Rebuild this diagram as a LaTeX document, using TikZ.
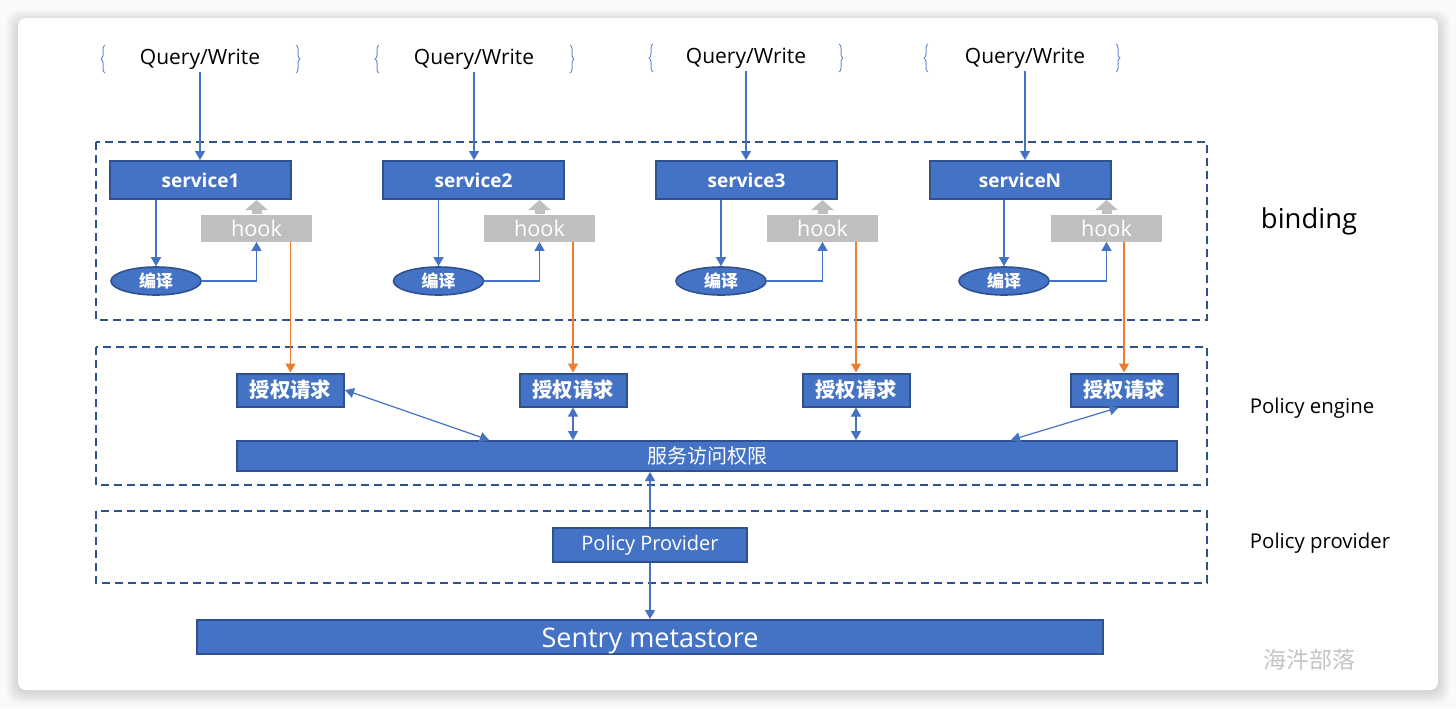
\documentclass[tikz,border=0pt]{standalone}
\usepackage{fontspec}
\setmainfont{Open Sans}
\newfontfamily\cjk{Noto Sans CJK SC}
\usetikzlibrary{arrows.meta,positioning,calc,shapes.geometric,decorations.pathreplacing}
\definecolor{boxblue}{HTML}{4472C4}
\definecolor{boxedge}{HTML}{2F528F}
\definecolor{hookgray}{HTML}{BFBFBF}
\definecolor{reqorange}{HTML}{ED7D31}
\definecolor{markgray}{HTML}{C4C4C4}

\begin{document}
\begin{tikzpicture}[x=0.5pt, y=-0.5pt,
  qw/.style={inner sep=1pt, font=\fontsize{10.5}{12}\selectfont},
  svc/.style={draw=boxedge, line width=1pt, fill=boxblue, text=white, inner sep=0pt, minimum width=90.5pt, minimum height=19pt, font=\fontsize{9.5}{11}\selectfont\bfseries},
  hookbox/.style={fill=hookgray, text=white, inner sep=0pt, minimum width=55.5pt, minimum height=13.5pt, font=\fontsize{10.8}{12}\selectfont},
  comp/.style={ellipse, draw=boxedge, line width=0.8pt, fill=boxblue, text=white, inner sep=0pt, minimum width=45pt, minimum height=14pt, font=\cjk\fontsize{8.5}{10}\selectfont\bfseries},
  authbox/.style={draw=boxedge, line width=1pt, fill=boxblue, text=white, inner sep=0pt, minimum width=53.5pt, minimum height=16.5pt, font=\cjk\fontsize{10.2}{12}\selectfont\bfseries},
  bar/.style={draw=boxedge, line width=1pt, fill=boxblue, text=white, inner sep=0pt, minimum height=15pt, align=center},
  layer/.style={anchor=center, font=\fontsize{10.2}{12}\selectfont},
  grp/.style={draw=boxedge, line width=1.1pt, dash pattern=on 4pt off 2.5pt},
  brc/.style={decorate, decoration={brace, amplitude=2pt}, boxblue!80, line width=0.5pt},
  arr/.style={-{Triangle[length=4.5pt, width=5pt]}, boxblue, line width=0.6pt},
  darr/.style={{Triangle[length=4.5pt, width=5pt]}-{Triangle[length=4.5pt, width=5pt]}, boxblue, line width=0.6pt},
  oarr/.style={-{Triangle[length=4.5pt, width=5pt]}, reqorange, line width=0.7pt},
  hookarr/.style={-{Triangle[length=5pt, width=11pt]}, hookgray, line width=5pt}
]
  % card and shadow
  \fill[gray!4] (0,0) rectangle (1456,708);
  \foreach \d in {1,...,12}
    \fill[black, opacity=0.012, rounded corners=6pt] (18-\d,18-\d+4) rectangle (1438+\d,690+\d+2);
  \fill[white, rounded corners=4pt] (18,18) rectangle (1438,690);

  % layers
  \draw[grp] (96,142) rectangle (1207,320);
  \draw[grp] (96,347) rectangle (1207,485);
  \draw[grp] (96,511) rectangle (1207,583);

  \node[layer, font=\fontsize{13.7}{16}\selectfont] (lbind) at (1309,221) {binding};
  \node[layer] (lengine) at (1312,408) {Policy engine};
  \node[layer] (lprov) at (1320,543) {Policy provider};

  % requests
  \node[qw] (q1) at (200,59) {Query/Write};
  \node[qw] (q2) at (474,59) {Query/Write};
  \node[qw] (q3) at (746,58) {Query/Write};
  \node[qw] (q4) at (1025,58) {Query/Write};

  \draw[brc] ([shift={(-95,14)}]q1.center) -- ([shift={(-95,-14)}]q1.center);
  \draw[brc] ([shift={(96,-14)}]q1.center) -- ([shift={(96,14)}]q1.center);
  \draw[brc] ([shift={(-95,14)}]q2.center) -- ([shift={(-95,-14)}]q2.center);
  \draw[brc] ([shift={(96,-14)}]q2.center) -- ([shift={(96,14)}]q2.center);
  \draw[brc] ([shift={(-93,14)}]q3.center) -- ([shift={(-93,-14)}]q3.center);
  \draw[brc] ([shift={(93,-14)}]q3.center) -- ([shift={(93,14)}]q3.center);
  \draw[brc] ([shift={(-97,14)}]q4.center) -- ([shift={(-97,-14)}]q4.center);
  \draw[brc] ([shift={(91,-14)}]q4.center) -- ([shift={(91,14)}]q4.center);

  % binding
  \node[svc] (svc1) at (200.5,180) {service1};
  \node[svc] (svc2) at (473.5,180) {service2};
  \node[svc] (svc3) at (746.5,180) {service3};
  \node[svc] (svc4) at (1020,180) {serviceN};

  \node[hookbox] (hook1) at (256.5,228) {hook};
  \node[hookbox] (hook2) at (539.5,228) {hook};
  \node[hookbox] (hook3) at (822.5,228) {hook};
  \node[hookbox] (hook4) at (1106.5,228) {hook};

  \node[comp] (comp1) at (156,281) {编译};
  \node[comp] (comp2) at (438.5,281) {编译};
  \node[comp] (comp3) at (721,281) {编译};
  \node[comp] (comp4) at (1004,281) {编译};

  % policy engine
  \node[authbox] (auth1) at (290.5,390) {授权请求};
  \node[authbox] (auth2) at (573,390) {授权请求};
  \node[authbox] (auth3) at (856,390) {授权请求};
  \node[authbox] (auth4) at (1124,390) {授权请求};
  \node[bar, minimum width=470pt, font=\cjk\fontsize{10}{12}\selectfont] (acl) at (707,456) {服务访问权限};

  % provider and store
  \node[bar, minimum width=97pt, minimum height=17pt, font=\fontsize{10}{12}\selectfont] (prov) at (650,545) {Policy Provider};
  \node[bar, minimum width=453pt, minimum height=17pt, text height=11pt, text depth=1pt, font=\fontsize{13.5}{16}\selectfont] (store) at (650,637) {Sentry metastore};

  \draw[arr] (q1.south) -- (q1.south |- svc1.north);
  \draw[arr] (q2.south) -- (q2.south |- svc2.north);
  \draw[arr] (q3.south) -- (q3.south |- svc3.north);
  \draw[arr] (q4.south) -- (q4.south |- svc4.north);

  \draw[hookarr] (hook1.north) -- (hook1.north |- svc1.south);
  \draw[hookarr] (hook2.north) -- (hook2.north |- svc2.south);
  \draw[hookarr] (hook3.north) -- (hook3.north |- svc3.south);
  \draw[hookarr] (hook4.north) -- (hook4.north |- svc4.south);

  \draw[arr] (svc1.south -| comp1) -- (comp1);
  \draw[arr] (svc2.south -| comp2) -- (comp2);
  \draw[arr] (svc3.south -| comp3) -- (comp3);
  \draw[arr] (svc4.south -| comp4) -- (comp4);

  \draw[arr] (comp1.east) -| (hook1.south);
  \draw[arr] (comp2.east) -| (hook2.south);
  \draw[arr] (comp3.east) -| (hook3.south);
  \draw[arr] (comp4.east) -| (hook4.south);

  \draw[oarr] (hook1.south -| auth1) -- (auth1.north);
  \draw[oarr] (hook2.south -| auth2) -- (auth2.north);
  \draw[oarr] (hook3.south -| auth3) -- (auth3.north);
  \draw[oarr] (hook4.south -| auth4) -- (auth4.north);

  \draw[darr] (auth1.east) -- ([xshift=126.5pt]acl.north west);
  \draw[darr] (auth2.south) -- (auth2.south |- acl.north);
  \draw[darr] (auth3.south) -- (auth3.south |- acl.north);
  \draw[darr] ([xshift=24.5pt]auth4.south west) -- ([xshift=-83.5pt]acl.north east);

  \draw[arr] (prov.north) -- (prov.north |- acl.south);
  \draw[arr] (prov.south) -- (prov.south |- store.north);

  % watermark
  \node[font=\cjk\fontsize{11.5}{13}\selectfont, text=markgray] (mark) at (1309,660) {海汼部落};
\end{tikzpicture}
\end{document}
